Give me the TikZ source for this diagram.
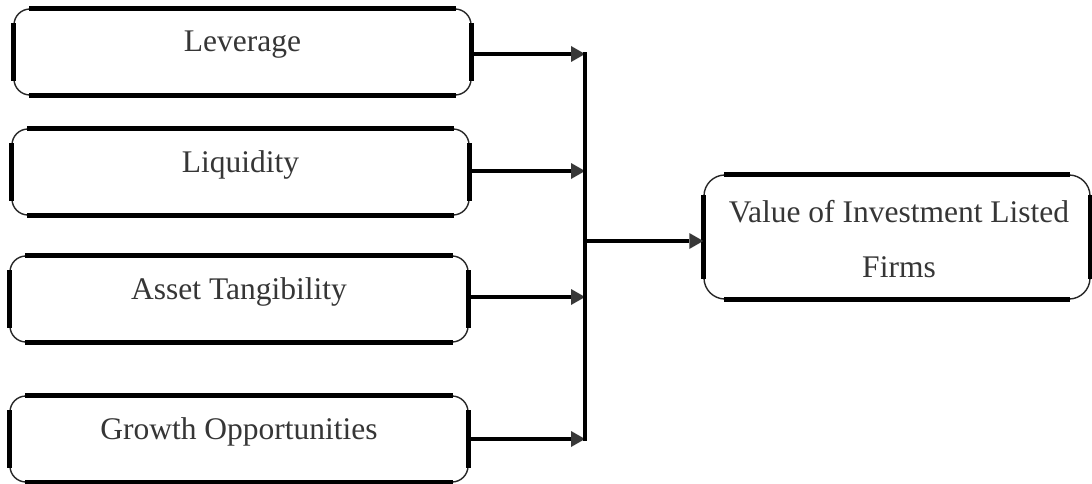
\documentclass[tikz,border=0pt]{standalone}
\usepackage{fontspec}
\setmainfont{Liberation Serif}
\usetikzlibrary{arrows.meta}
\definecolor{txt}{HTML}{363636}
\definecolor{hd}{HTML}{383838}
\newcommand\vstrut{\rule[-20pt]{0pt}{40pt}}
\begin{document}
\begin{tikzpicture}[x=1pt,y=-1pt,
  inbox/.style={draw=black!85, line width=1.4pt, rounded corners=16pt,
    minimum width=457pt, minimum height=86pt, inner sep=0pt,
    text height=20pt, text depth=20pt,
    font=\fontsize{31.5}{36}\selectfont, text=txt},
  outbox/.style={draw=black!85, line width=1.4pt, rounded corners=21pt,
    minimum width=386pt, minimum height=124pt, inner sep=0pt},
  vtext/.style={font=\fontsize{31.5}{55}\selectfont, text=txt, align=center, inner sep=0pt},
  heavy/.style={line width=4.5pt, black},
  arr/.style={line width=4.5pt, black,
    -{Triangle[length=14pt,width=16pt,line width=0pt,fill=hd,color=hd]}},
  bus/.style={line width=3.8pt, black, line cap=rect}
]
\useasboundingbox (0,0) rectangle (1092,484);
\fill[white] (0,0) rectangle (1092,484);

\coordinate (busx) at (585,0);
\node[inbox] (b1) at (242.5,52) {Leverage};
\node[inbox] (b2) at (240.5,172) {Liquidity};
\node[inbox, minimum width=458pt] (b3) at (239,299) {Asset Tangibility};
\node[inbox, minimum width=458pt] (b4) at (239,439) {Growth Opportunities};
\node[outbox] (v) at (897,237) {};
\node[vtext] (vt) at (899,248.5) {\vstrut Value of Investment Listed\\\vstrut Firms};

% heavy straight edges of the rounded boxes
\foreach \n in {b1,b2,b3,b4}{
  \draw[heavy] ([xshift=16pt]\n.north west) -- ([xshift=-16pt]\n.north east);
  \draw[heavy] ([xshift=16pt]\n.south west) -- ([xshift=-16pt]\n.south east);
  \draw[heavy] ([yshift=-15pt]\n.north west) -- ([yshift=15pt]\n.south west);
  \draw[heavy] ([yshift=-15pt]\n.north east) -- ([yshift=15pt]\n.south east);
}
\draw[heavy] ([xshift=21pt]v.north west) -- ([xshift=-21pt]v.north east);
\draw[heavy] ([xshift=21pt]v.south west) -- ([xshift=-21pt]v.south east);
\draw[heavy] ([yshift=-21pt]v.north west) -- ([yshift=21pt]v.south west);
\draw[heavy] ([yshift=-21pt]v.north east) -- ([yshift=21pt]v.south east);

% connectors
\foreach \n/\s in {b1/-2,b2/1,b3/2,b4/0}{
  \coordinate (\n s) at ([yshift=\s pt]\n.east);
  \draw[arr] (\n s) -- (\n s -| busx);
}
\draw[bus] (b1s -| busx) -- (b4s -| busx);
\coordinate (jm) at (585,241);
\draw[arr] (jm) -- (jm -| v.west);
\end{tikzpicture}
\end{document}
